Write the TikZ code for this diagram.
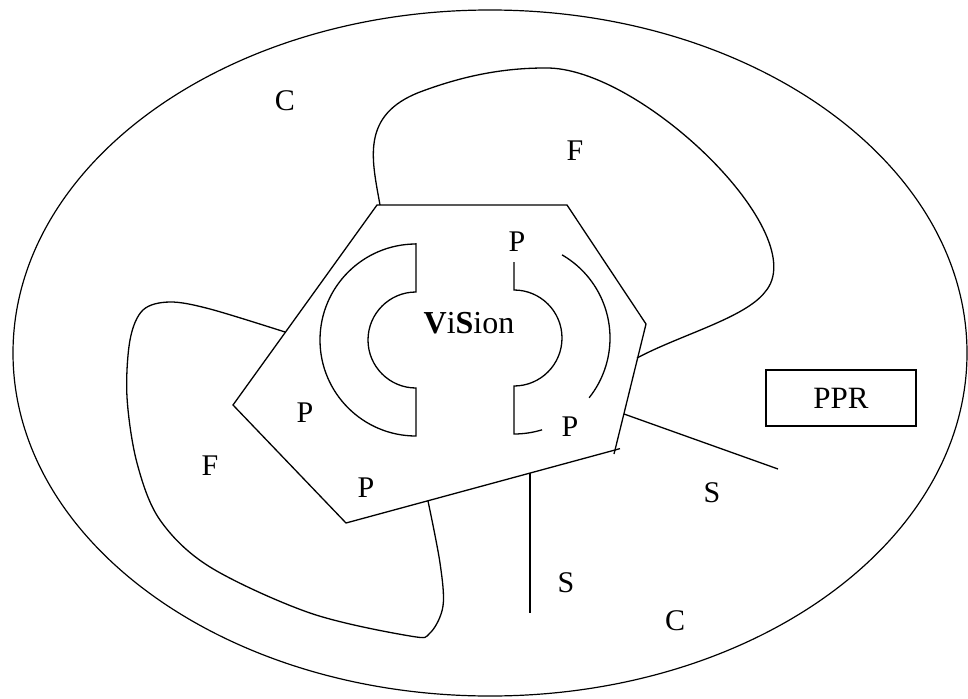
\documentclass[tikz,border=0pt]{standalone}
\usepackage{fontspec}
\setmainfont{Liberation Serif}
\usetikzlibrary{shapes.geometric}
\begin{document}
\begin{tikzpicture}[x=1pt,y=-1pt,line width=1.3pt,line join=miter,
  lbl/.style={inner sep=0pt,font=\fontsize{30}{30}\selectfont},
  boxlbl/.style={draw,line width=1.3pt,minimum width=150pt,minimum height=56pt,inner sep=0pt,font=\fontsize{31}{31}\selectfont},
  curve/.style={smooth,tension=0.55}]
\useasboundingbox (0,0) rectangle (968,698);
% outer ellipse
\node[draw,ellipse,minimum width=954pt,minimum height=686pt,inner sep=0pt,line width=1.2pt] (cell) at (490,353) {};
% hexagon
\coordinate (h1) at (377,205);
\coordinate (h2) at (567,205);
\coordinate (h3) at (646,324);
\coordinate (h4) at (615,450);
\coordinate (h5) at (346,523);
\coordinate (h6) at (233,405);
\draw (h1) -- (h2) -- (h3) -- (h4) -- (h5) -- (h6) -- cycle;
\draw (h4) -- ++(-1,4);
\draw (h4) -- ++(5,-1.4);
% left C shape
\draw (416,243) -- (416,292) arc[start angle=-90,end angle=-270,radius=48]
      -- (416,436) arc[start angle=90,end angle=270,radius=96];
% right shape
\coordinate (rc) at (514,338);
\draw (514,262) -- (514,290) arc[start angle=-90,end angle=90,radius=48]
      -- (514,434) arc[start angle=90,end angle=73,radius=96];
\draw ([shift={(-60:96)}]rc) arc[start angle=-60,end angle=38.5,radius=96];
% F curves
\coordinate (ft0) at (380,205);
\coordinate (ft1) at (637,358);
\draw (ft0) .. controls (372,160) and (360,115) .. (420,92)
      .. controls (460,77) and (500,68) .. (545,68)
      .. controls (640,66) and (815,235) .. (765,292)
      .. controls (745,318) and (680,335) .. (ft1);
\coordinate (fl0) at (285,332);
\coordinate (fl1) at (428,501);
\draw plot[curve] coordinates {(285,332) (210,309) (170,302) (143,310) (130,340) (127,397) (137,463) (160,520) (210,567) (310,613) (410,636) (430,633) (443,606) (440,563) (428,501)};
% S lines
\coordinate (s1a) at (624,414);
\coordinate (s1b) at (778,469);
\draw (s1a) -- (s1b);
\coordinate (s2a) at (530,473);
\coordinate (s2b) at (530,613);
\draw (s2a) -- (s2b);
% labels
\node[lbl] (c1) at (285,101) {C};
\node[lbl] (f1) at (575,151) {F};
\node[lbl] (p1) at (517,242) {P};
\node[lbl,font=\fontsize{32}{32}\selectfont] (vis) at (469,323) {\textbf{V}i\textbf{S}ion};
\node[lbl] (p2) at (305,413) {P};
\node[lbl] (p3) at (570,427) {P};
\node[lbl] (p4) at (366,488) {P};
\node[lbl] (f2) at (210,466) {F};
\node[lbl] (s1) at (712,493) {S};
\node[lbl] (s2) at (566,583) {S};
\node[lbl] (c2) at (675,621) {C};
\node[boxlbl] (ppr) at (841,398) {PPR};
\end{tikzpicture}
\end{document}
